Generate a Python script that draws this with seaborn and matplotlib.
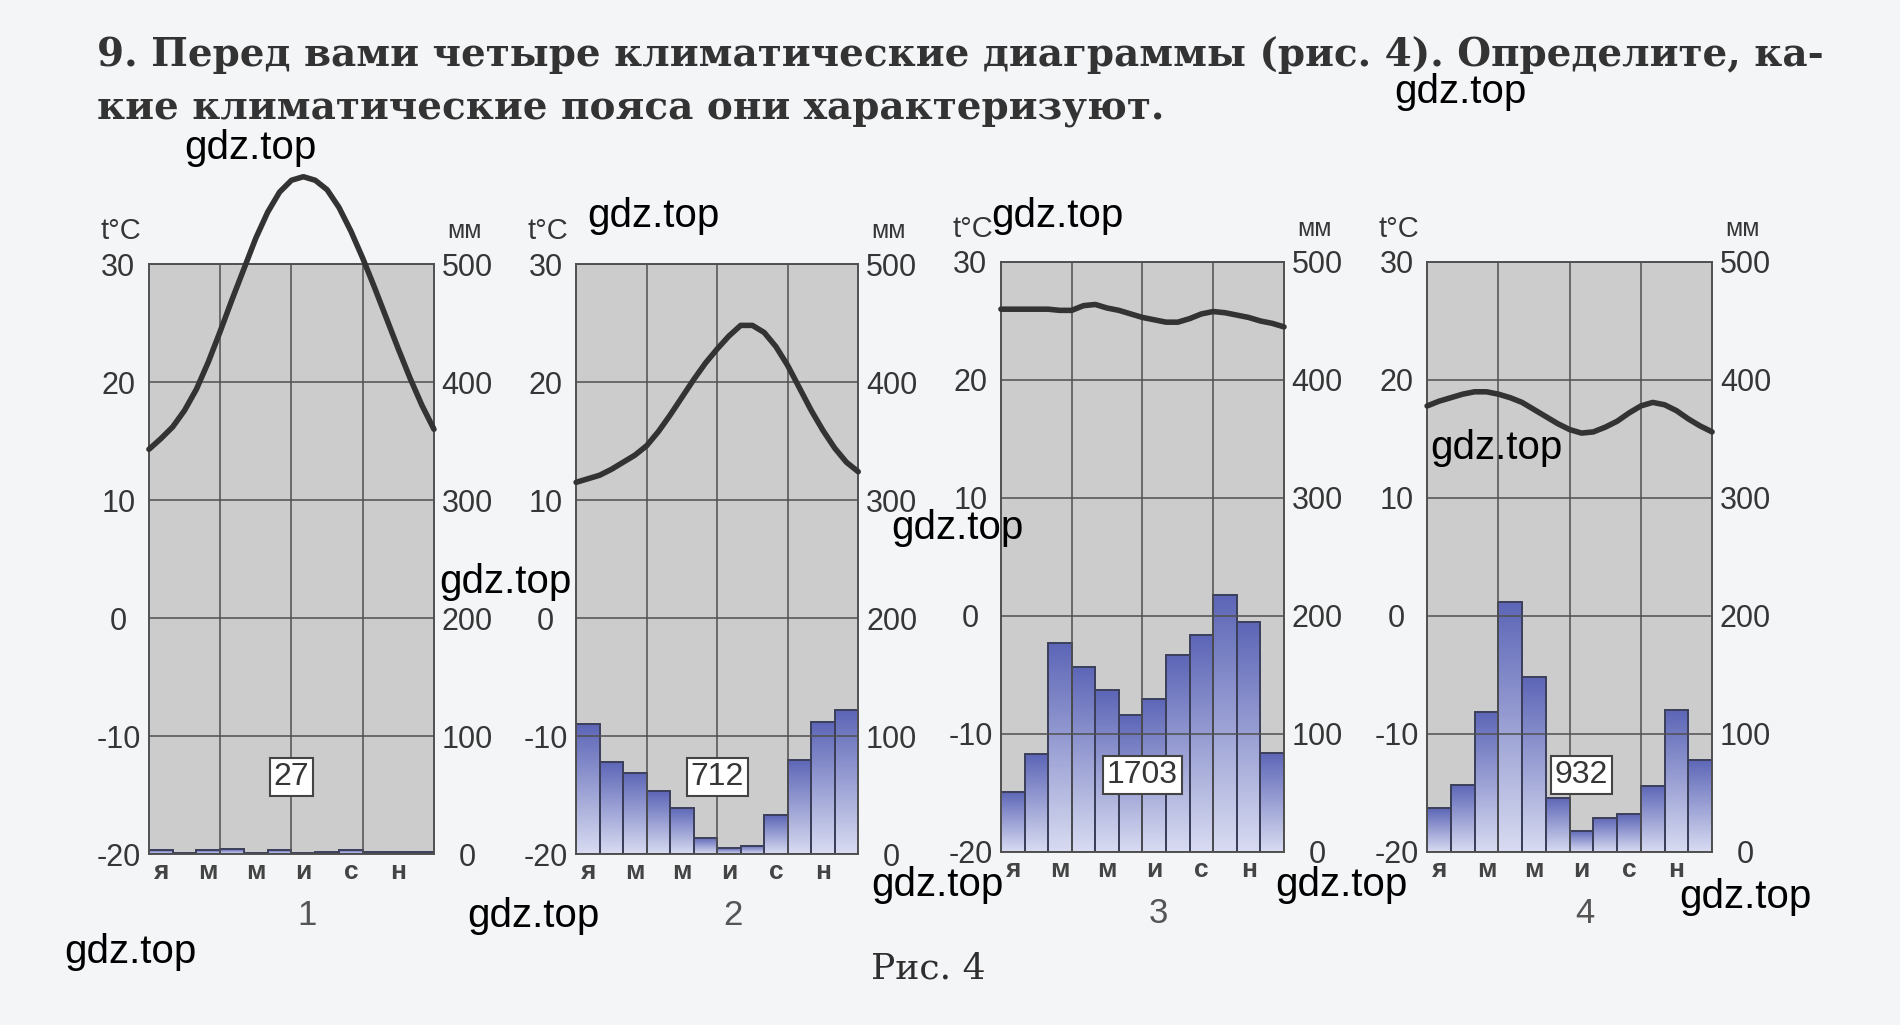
import numpy as np
import pandas as pd
import seaborn as sns
import matplotlib.pyplot as plt
from matplotlib.colors import LinearSegmentedColormap

# month labels (every second month is labelled)
month_labels = ['я', '', 'м', '', 'м', '', 'и', '', 'с', '', 'н', '']

# temperature every half month (0 = start of Jan, 12 = end of Dec)
half_months = np.arange(0, 12.5, 0.5)
temp1 = [14.3, 15.2, 16.2, 17.6, 19.4, 21.7, 24.3, 27.0, 29.6, 32.2, 34.4, 36.1, 37.1,
         37.4, 37.1, 36.3, 34.8, 32.8, 30.5, 28.0, 25.4, 22.8, 20.3, 18.0, 16.0]
temp2 = [11.5, 11.8, 12.1, 12.6, 13.2, 13.8, 14.6, 15.8, 17.2, 18.7, 20.2, 21.6, 22.8,
         23.9, 24.8, 24.8, 24.2, 23.0, 21.4, 19.5, 17.6, 15.9, 14.4, 13.2, 12.4]
temp3 = [26.0, 26.0, 26.0, 26.0, 26.0, 25.9, 25.9, 26.3, 26.4, 26.1, 25.9, 25.6, 25.3,
         25.1, 24.9, 24.9, 25.2, 25.6, 25.8, 25.7, 25.5, 25.3, 25.0, 24.8, 24.5]
temp4 = [17.8, 18.2, 18.5, 18.8, 19.0, 19.0, 18.8, 18.5, 18.1, 17.5, 16.9, 16.3, 15.8,
         15.5, 15.6, 16.0, 16.5, 17.2, 17.8, 18.1, 17.9, 17.4, 16.7, 16.1, 15.6]

# monthly precipitation, mm
prec1 = [3, 1, 3, 4, 1, 3, 1, 2, 3, 2, 2, 2]
prec2 = [110, 78, 69, 53, 39, 14, 5, 7, 33, 80, 112, 122]
prec3 = [51, 83, 177, 157, 137, 116, 130, 167, 184, 218, 195, 84]
prec4 = [37, 57, 119, 212, 148, 46, 18, 29, 32, 56, 120, 78]

totals = ['27', '712', '1703', '932']
numbers = ['1', '2', '3', '4']

temps = [temp1, temp2, temp3, temp4]
precs = [prec1, prec2, prec3, prec4]

sns.set_style('white')
plt.rcParams['font.family'] = ['Liberation Sans', 'DejaVu Sans']
plt.rcParams['axes.unicode_minus'] = False

fig = plt.figure(figsize=(19, 10.25), dpi=100, facecolor='#f4f5f7')

boxes = [[0.0784, 0.1668, 0.150, 0.5756],
         [0.3032, 0.1668, 0.1485, 0.5756],
         [0.5268, 0.1688, 0.149, 0.5756],
         [0.7511, 0.1688, 0.150, 0.5756]]
box_x = [5.5, 5.5, 5.5, 6.0]

bar_cmap = LinearSegmentedColormap.from_list('bars', ['#d8dbf1', '#5d66b7'])
grad = np.linspace(0, 1, 100).reshape(-1, 1)
dark = '#363636'

for i in range(4):
    ax = fig.add_axes(boxes[i])
    df = pd.DataFrame({'month': np.arange(12), 'mm': precs[i]})
    sns.barplot(data=df, x='month', y='mm', ax=ax, width=1, color='#8a90cc',
                edgecolor='#3c3f5a', linewidth=1.4)
    ax.set_facecolor('#cccccc')
    for p in ax.patches:
        x0, w, h = p.get_x(), p.get_width(), p.get_height()
        im = ax.imshow(grad, extent=[x0, x0 + w, 0, h], origin='lower', aspect='auto',
                       cmap=bar_cmap, zorder=1.1)
        im.set_clip_path(p)
        p.set_facecolor('none')
        p.set_zorder(1.3)
    ax.set_xlim(-0.5, 11.5)
    ax.set_ylim(0, 500)
    ax.set_aspect('auto')
    ax.set_xlabel('')
    ax.set_ylabel('')

    ax_t = ax.twinx()
    sns.lineplot(x=half_months - 0.5, y=temps[i], ax=ax_t, color='#333333', lw=4)
    for ln in ax_t.lines:
        ln.set_clip_on(False)
        ln.set_solid_joinstyle('round')
    ax_t.set_ylim(-20, 30)
    ax_t.set_xlim(-0.5, 11.5)
    ax_t.set_ylabel('')
    ax_t.grid(False)
    for s in ax_t.spines.values():
        s.set_visible(False)

    # mm scale on the right, temperature on the left
    ax.yaxis.tick_right()
    ax.yaxis.set_label_position('right')
    ax_t.yaxis.tick_left()
    ax_t.yaxis.set_label_position('left')

    ax.set_xticks(np.arange(12))
    ax.set_xticklabels(month_labels, fontsize=19, fontweight='bold', color='#444444')
    ax.set_xticks([2.5, 5.5, 8.5], minor=True)
    ax.set_yticks(np.arange(0, 501, 100))
    ax.tick_params(axis='both', which='both', length=0)
    ax.tick_params(axis='x', pad=4)
    ax.tick_params(axis='y', pad=24, labelsize=22, labelcolor=dark)
    for lab in ax.get_yticklabels():
        lab.set_horizontalalignment('center')

    ax_t.set_yticks(np.arange(-20, 31, 10))
    ax_t.tick_params(axis='y', length=0, pad=22, labelsize=22, labelcolor=dark)
    for lab in ax_t.get_yticklabels():
        lab.set_horizontalalignment('center')

    ax.set_axisbelow(False)
    ax.grid(which='minor', axis='x', color='#505050', lw=1.1)
    ax.grid(which='major', axis='y', color='#505050', lw=1.1)
    ax.grid(which='major', axis='x', visible=False)
    for s in ax.spines.values():
        s.set_color('#505050')
        s.set_linewidth(1.4)

    ax.text(box_x[i], 65, totals[i], ha='center', va='center', fontsize=23, color=dark,
            zorder=5, bbox=dict(boxstyle='square,pad=0.12', fc='white', ec='#444444', lw=1.5))

    ax.annotate('t°C', xy=(0, 1), xycoords='axes fraction', xytext=(-20, 24),
                textcoords='offset points', ha='center', va='center', fontsize=21, color=dark)
    ax.annotate('мм', xy=(1, 1), xycoords='axes fraction', xytext=(22, 24),
                textcoords='offset points', ha='center', va='center', fontsize=18, color=dark)
    ax.text(0.555, -0.105, numbers[i], transform=ax.transAxes, ha='center', va='center',
            fontsize=25, color='#555555')

fig.text(0.051, 0.946, '9. Перед вами четыре климатические диаграммы (рис. 4). Определите, ка-',
         family='DejaVu Serif', fontweight='bold', fontsize=28, color='#333333', va='center')
fig.text(0.051, 0.894, 'кие климатические пояса они характеризуют.',
         family='DejaVu Serif', fontweight='bold', fontsize=28, color='#333333', va='center')
fig.text(0.4885, 0.055, 'Рис. 4', family='DejaVu Serif', fontsize=26, color='#2e2e2e',
         ha='center', va='center')

# watermarks
marks = [(1460, 92), (250, 148), (653, 216), (1057, 216), (1496, 448), (957, 528),
         (505, 582), (937, 885), (1341, 885), (533, 916), (1745, 897), (130, 952)]
for mx, my in marks:
    fig.text(mx / 1900, 1 - my / 1025, 'gdz.top', fontsize=29, color='black',
             ha='center', va='center', zorder=10)

fig.savefig('out.png', dpi=100, facecolor=fig.get_facecolor())
